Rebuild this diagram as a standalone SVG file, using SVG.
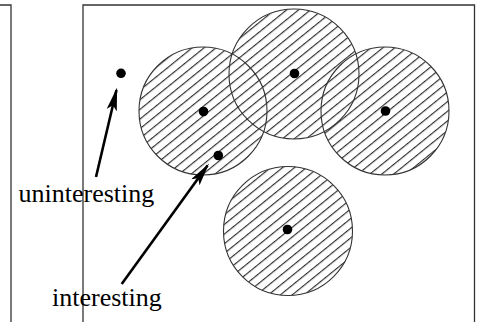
<svg xmlns="http://www.w3.org/2000/svg" width="477" height="322" viewBox="0 0 477 322">
<style>
.frame{fill:none;stroke:#333;stroke-width:1.3}
.disk{fill:none;stroke:#333;stroke-width:1.1}
.dot{fill:#000}
.lbl{font-family:"Liberation Serif","Times New Roman",serif;font-size:26px;fill:#000}
.arrow{stroke:#000;stroke-width:2.6;fill:none;marker-end:url(#head)}
</style>
<defs>
<pattern id="hatch" patternUnits="userSpaceOnUse" width="7.5" height="20" patternTransform="rotate(51)">
<line x1="0.6" y1="0" x2="0.6" y2="20" stroke="#222" stroke-width="1.1"/>
</pattern>
<clipPath id="disks">
<circle cx="203" cy="111" r="64"/>
<circle cx="385" cy="111" r="64"/>
<circle cx="294" cy="74" r="65"/>
<circle cx="288" cy="231" r="64.5"/>
</clipPath>
<marker id="head" markerWidth="9" markerHeight="4" refX="8" refY="2" orient="auto" markerUnits="strokeWidth" viewBox="0 0 9 4">
<path d="M0,0 L9,2 L0,4 L2,2 Z" fill="#000"/>
</marker>
</defs>
<rect width="477" height="322" fill="#fff"/>
<g id="left-panel"><path class="frame" d="M0,5 H11 V322"/></g>
<g id="frame"><path class="frame" d="M83,322 V5 H474.5 V322"/></g>
<g id="hatching"><rect x="130" y="0" width="330" height="300" fill="url(#hatch)" clip-path="url(#disks)"/></g>
<g id="disk-left"><circle class="disk" cx="203" cy="111" r="64"/><circle class="dot" cx="203.5" cy="111.5" r="4.8"/></g>
<g id="disk-right"><circle class="disk" cx="385" cy="111" r="64"/><circle class="dot" cx="385.5" cy="111" r="4.8"/></g>
<g id="disk-top"><circle class="disk" cx="294" cy="74" r="65"/><circle class="dot" cx="294.5" cy="73.5" r="4.8"/></g>
<g id="disk-bottom"><circle class="disk" cx="288" cy="231" r="64.5"/><circle class="dot" cx="287.5" cy="229.5" r="4.8"/></g>
<g id="point-uninteresting"><circle class="dot" cx="121" cy="73.3" r="4.8"/></g>
<g id="point-interesting"><circle class="dot" cx="218.3" cy="155.5" r="4.8"/></g>
<g id="connectors">
<line class="arrow" x1="96" y1="177" x2="116.5" y2="90"/>
<line class="arrow" x1="121.7" y1="284" x2="207.5" y2="165.5"/>
</g>
<g id="label-uninteresting"><text class="lbl" x="18.5" y="201.5">uninteresting</text></g>
<g id="label-interesting"><text class="lbl" x="52" y="306">interesting</text></g>
</svg>
